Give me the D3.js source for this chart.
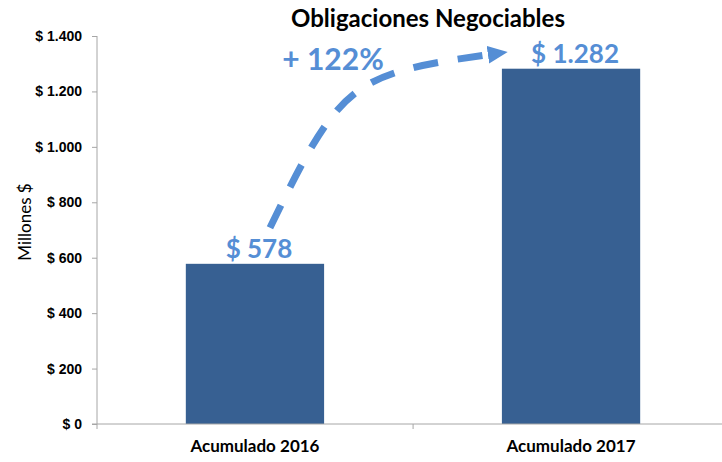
<!DOCTYPE html>
<html>
<head>
<meta charset="utf-8">
<script src="https://cdn.jsdelivr.net/npm/d3@7"></script>
<style>
  body { margin: 0; background: #fff; }
  svg { display: block; font-family: Lato, "Open Sans", sans-serif; }
  .axis path, .axis line { stroke: #a6a6a6; }
  .axis text { font-weight: bold; fill: #000; }
</style>
</head>
<body>
<div id="chart"></div>
<script>
// data
var categories = ["Acumulado 2016", "Acumulado 2017"];
var values = [578, 1282];
var valueLabels = ["$ 578", "$ 1.282"];
var yTicks = [0, 200, 400, 600, 800, 1000, 1200, 1400];
var yTickLabels = ["$ 0", "$ 200", "$ 400", "$ 600", "$ 800", "$ 1.000", "$ 1.200", "$ 1.400"];
var growthLabel = "+ 122%";

var W = 722, H = 462,
    margin = {t: 36, r: -7, b: 38, l: 97},
    w = W - margin.l - margin.r,
    h = H - margin.t - margin.b;

var barColor = "#376092",
    labelColor = "#558ed5";

var svg = d3.select("#chart").append("svg")
    .attr("width", W)
    .attr("height", H);

var x = d3.scaleBand().domain(categories).range([0, w]).paddingInner(0.5625).paddingOuter(0.281);
var y = d3.scaleLinear().domain([0, 1400]).range([h, 0]);

var g = svg.append("g").attr("transform", "translate(" + margin.l + "," + margin.t + ")");

// bars
g.selectAll("rect.bar")
    .data(values)
  .enter().append("rect")
    .attr("class", "bar")
    .attr("x", function(d, i) { return x(categories[i]); })
    .attr("y", function(d) { return y(d); })
    .attr("width", x.bandwidth())
    .attr("height", function(d) { return h - y(d); })
    .style("fill", barColor);

// y axis
var yAxis = d3.axisLeft(y).tickValues(yTicks).tickSize(5).tickPadding(10)
    .tickFormat(function(d) { return yTickLabels[yTicks.indexOf(d)]; });
g.append("g").attr("class", "y axis").call(yAxis)
    .call(function(s) { s.select(".domain").attr("d", "M0," + h + "V0"); })
    .selectAll("text").style("font-size", "14px");

// x axis, ticks on the category borders
var xAxisG = g.append("g").attr("class", "x axis").attr("transform", "translate(0," + h + ")");
xAxisG.append("path").attr("class", "domain").attr("d", "M-5,0H" + w).style("stroke", "#a6a6a6");
xAxisG.selectAll("line.tk")
    .data([0, 1, 2])
  .enter().append("line")
    .attr("class", "tk")
    .attr("x1", function(d) { return d * x.step(); })
    .attr("x2", function(d) { return d * x.step(); })
    .attr("y1", 0).attr("y2", 5);
xAxisG.selectAll("text")
    .data(categories)
  .enter().append("text")
    .attr("x", function(d) { return x(d) + x.bandwidth() / 2; })
    .attr("y", 28)
    .attr("text-anchor", "middle")
    .style("font-size", "17px")
    .text(function(d) { return d; });

// value labels
g.selectAll("text.val")
    .data(values)
  .enter().append("text")
    .attr("class", "val")
    .attr("x", function(d, i) { return x(categories[i]) + x.bandwidth() / 2 + 4; })
    .attr("y", function(d) { return y(d) - 6; })
    .attr("text-anchor", "middle")
    .style("font-size", "26px")
    .style("font-weight", "bold")
    .style("fill", labelColor)
    .text(function(d, i) { return valueLabels[i]; });

// dashed growth arrow from bar 1 to bar 2
svg.append("defs").append("marker")
    .attr("id", "arrow")
    .attr("markerUnits", "userSpaceOnUse")
    .attr("markerWidth", 22).attr("markerHeight", 18)
    .attr("refX", 0).attr("refY", 9)
    .attr("orient", "auto")
  .append("path")
    .attr("d", "M0,0L20,9L0,18Z")
    .style("fill", labelColor);

var p0 = [x(categories[0]) + x.bandwidth() / 2 + 15, y(values[0]) - 36],
    p3 = [x(categories[1]) - 14, y(values[1]) - 14],
    corner = [344 - margin.l, 75 - margin.t],
    k = 0.95,
    c1 = [p0[0] + k * (corner[0] - p0[0]), p0[1] + k * (corner[1] - p0[1])],
    c2 = [p3[0] + k * (corner[0] - p3[0]), p3[1] + k * (corner[1] - p3[1])];

g.append("path")
    .attr("d", "M" + p0 + "C" + c1 + " " + c2 + " " + p3)
    .style("fill", "none")
    .style("stroke", labelColor)
    .style("stroke-width", 7)
    .style("stroke-dasharray", "25,20")
    .attr("marker-end", "url(#arrow)");

g.append("text")
    .attr("x", 333 - margin.l)
    .attr("y", 70 - margin.t)
    .attr("text-anchor", "middle")
    .style("font-size", "30px")
    .style("font-weight", "bold")
    .style("fill", labelColor)
    .text(growthLabel);

// title
svg.append("text")
    .attr("x", 428)
    .attr("y", 27)
    .attr("text-anchor", "middle")
    .style("font-size", "24px")
    .style("font-weight", "bold")
    .text("Obligaciones Negociables");

// y axis label
svg.append("text")
    .attr("transform", "translate(31,222) rotate(-90)")
    .attr("text-anchor", "middle")
    .style("font-size", "17px")
    .style("fill", "#000")
    .text("Millones $");
</script>
</body>
</html>
